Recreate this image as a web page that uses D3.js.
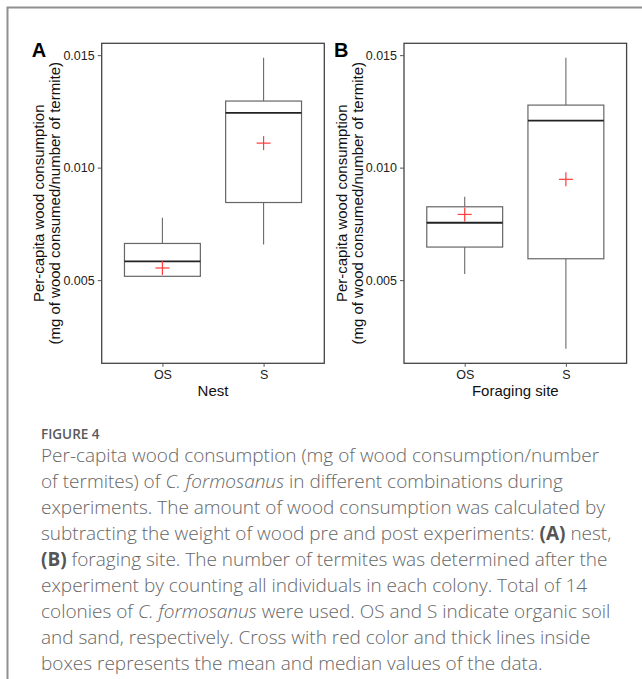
<!DOCTYPE html>
<html>
<head>
<meta charset="utf-8">
<script src="https://cdn.jsdelivr.net/npm/d3@7"></script>
<style>
  html, body { margin: 0; padding: 0; background: #fff; }
  svg { display: block; }
</style>
</head>
<body>
<svg id="chart" width="642" height="679"></svg>
<script>
// ---------------- DATA ----------------
const categories = ["OS", "S"];
const yTickValues = [0.005, 0.010, 0.015];
const yTickLabels = ["0.005", "0.010", "0.015"];

// Panel A: Nest
const nestMin    = [0.00517, 0.00658];
const nestQ1     = [0.00517, 0.00845];
const nestMedian = [0.00583, 0.01243];
const nestQ3     = [0.00663, 0.01296];
const nestMax    = [0.00777, 0.01488];
const nestMean   = [0.00554, 0.01109];

// Panel B: Foraging site
const foragingMin    = [0.00527, 0.00195];
const foragingQ1     = [0.00647, 0.00595];
const foragingMedian = [0.00755, 0.01209];
const foragingQ3     = [0.00826, 0.01278];
const foragingMax    = [0.00871, 0.01488];
const foragingMean   = [0.00792, 0.00948];

const panelLabels = ["A", "B"];
const xTitles = ["Nest", "Foraging site"];
const yTitleLines = ["Per-capita wood consumption", "(mg of wood consumed/number of termite)"];

const captionTitle = "FIGURE 4";
// segments: [text, style] where style: n normal, i italic, b bold
const captionLines = [
  [["Per-capita wood consumption (mg of wood consumption/number", "n"]],
  [["of termites) of ", "n"], ["C. formosanus", "i"], [" in different combinations during", "n"]],
  [["experiments. The amount of wood consumption was calculated by", "n"]],
  [["subtracting the weight of wood pre and post experiments: ", "n"], ["(A)", "b"], [" nest,", "n"]],
  [["(B)", "b"], [" foraging site. The number of termites was determined after the", "n"]],
  [["experiment by counting all individuals in each colony. Total of 14", "n"]],
  [["colonies of ", "n"], ["C. formosanus", "i"], [" were used. OS and S indicate organic soil", "n"]],
  [["and sand, respectively. Cross with red color and thick lines inside", "n"]],
  [["boxes represents the mean and median values of the data.", "n"]]
];
// approximate rendered widths of the caption lines in the reference (px), used to size the font
const captionLineWidths = [564, 526, 573, 568, 560, 538, 596, 542, 485];

// ---------------- LAYOUT ----------------
const svg = d3.select("#chart");
const FONT = "'Liberation Sans', Arial, Helvetica, sans-serif";

// outer frame (left + top)
svg.append("path")
  .attr("d", "M7.5,679 L7.5,7.5 L642,7.5")
  .attr("fill", "none")
  .attr("stroke", "#8f8f8f")
  .attr("stroke-width", 2);

const plotTop = 43.3, plotH = 320, plotW = 222.6;
const panelLefts = [101.7, 404];

// shared y scale (ggplot-style 5% expansion over whisker range)
const allLow = d3.min([...nestMin, ...foragingMin]);
const allHigh = d3.max([...nestMax, ...foragingMax]);
const pad = (allHigh - allLow) * 0.05;
const y = d3.scaleLinear().domain([allLow - pad, allHigh + pad]).range([plotTop + plotH, plotTop]);

function drawPanel(idx, mins, q1s, meds, q3s, maxs, means) {
  const left = panelLefts[idx];
  const g = svg.append("g");
  const x = d3.scalePoint().domain(categories).range([left, left + plotW]).padding(0.6);
  const boxW = x.step() * 0.75;

  const rows = categories.map((c, i) => ({c, min: mins[i], q1: q1s[i], med: meds[i], q3: q3s[i], max: maxs[i], mean: means[i]}));

  // whiskers
  g.selectAll(".wup").data(rows).join("line")
    .attr("x1", d => x(d.c)).attr("x2", d => x(d.c))
    .attr("y1", d => y(d.q3)).attr("y2", d => y(d.max))
    .attr("stroke", "#6a6a6a").attr("stroke-width", 1.1);
  g.selectAll(".wdn").data(rows).join("line")
    .attr("x1", d => x(d.c)).attr("x2", d => x(d.c))
    .attr("y1", d => y(d.q1)).attr("y2", d => y(d.min))
    .attr("stroke", "#6a6a6a").attr("stroke-width", 1.1);

  // boxes
  g.selectAll(".box").data(rows).join("rect")
    .attr("x", d => x(d.c) - boxW / 2)
    .attr("y", d => y(d.q3))
    .attr("width", boxW)
    .attr("height", d => y(d.q1) - y(d.q3))
    .attr("fill", "#fff")
    .attr("stroke", "#666")
    .attr("stroke-width", 1.2);

  // medians
  g.selectAll(".med").data(rows).join("line")
    .attr("x1", d => x(d.c) - boxW / 2).attr("x2", d => x(d.c) + boxW / 2)
    .attr("y1", d => y(d.med)).attr("y2", d => y(d.med))
    .attr("stroke", "#222").attr("stroke-width", 1.8);

  // mean crosses
  const cs = 7;
  rows.forEach(d => {
    g.append("line").attr("x1", x(d.c) - cs).attr("x2", x(d.c) + cs)
      .attr("y1", y(d.mean)).attr("y2", y(d.mean))
      .attr("stroke", "#ff3b3b").attr("stroke-width", 1.2);
    g.append("line").attr("x1", x(d.c)).attr("x2", x(d.c))
      .attr("y1", y(d.mean) - cs).attr("y2", y(d.mean) + cs)
      .attr("stroke", "#ff3b3b").attr("stroke-width", 1.2);
  });

  // panel border
  g.append("rect")
    .attr("x", left).attr("y", plotTop)
    .attr("width", plotW).attr("height", plotH)
    .attr("fill", "none").attr("stroke", "#444").attr("stroke-width", 1.3);

  // y axis
  const ya = g.append("g").attr("transform", `translate(${left},0)`)
    .call(d3.axisLeft(y).tickValues(yTickValues).tickSize(4).tickPadding(3)
      .tickFormat((d, i) => yTickLabels[i]));
  ya.select(".domain").remove();
  ya.selectAll("line").attr("stroke", "#555");
  ya.selectAll("text").attr("font-family", FONT).attr("font-size", 12.5).attr("fill", "#222");

  // x axis
  const xa = g.append("g").attr("transform", `translate(0,${plotTop + plotH})`)
    .call(d3.axisBottom(x).tickSize(3.5).tickPadding(3.5));
  xa.select(".domain").remove();
  xa.selectAll("line").attr("stroke", "#555");
  xa.selectAll("text").attr("font-family", FONT).attr("font-size", 12.5).attr("fill", "#222");

  // x title
  g.append("text")
    .attr("x", left + plotW / 2).attr("y", 395.7)
    .attr("text-anchor", "middle")
    .attr("font-family", FONT).attr("font-size", 15).attr("fill", "#111")
    .text(xTitles[idx]);

  // y title (two lines)
  const cy = plotTop + plotH / 2;
  const offs = [-57.5, -41.5];
  yTitleLines.forEach((t, k) => {
    g.append("text")
      .attr("transform", `translate(${left + offs[k]},${cy}) rotate(-90)`)
      .attr("text-anchor", "middle")
      .attr("font-family", FONT).attr("font-size", 15).attr("fill", "#111")
      .text(t);
  });

  // panel label
  g.append("text")
    .attr("x", left - 70).attr("y", 57)
    .attr("font-family", FONT).attr("font-size", 20).attr("font-weight", "bold").attr("fill", "#000")
    .text(panelLabels[idx]);
}

drawPanel(0, nestMin, nestQ1, nestMedian, nestQ3, nestMax, nestMean);
drawPanel(1, foragingMin, foragingQ1, foragingMedian, foragingQ3, foragingMax, foragingMean);

// ---------------- CAPTION ----------------
const CAPFONT = "'Open Sans', 'Noto Sans', Lato, sans-serif";
svg.append("text")
  .attr("x", 41).attr("y", 438.5)
  .attr("font-family", CAPFONT).attr("font-size", 13.5).attr("font-weight", 600)
  .attr("fill", "#5a5a5a")
  .text(captionTitle);

const capG = svg.append("g");
let capSize = 19;
const lineEls = captionLines.map((segs, i) => {
  const t = capG.append("text")
    .attr("x", 41).attr("y", 461.5 + i * 26)
    .attr("font-family", CAPFONT).attr("font-size", capSize).attr("font-weight", 300)
    .attr("fill", "#666");
  segs.forEach(([s, st]) => {
    const ts = t.append("tspan").text(s);
    if (st === "i") ts.attr("font-style", "italic");
    if (st === "b") ts.attr("font-weight", 700).attr("fill", "#555");
  });
  return t;
});
// fit total width of caption lines to the reference widths
const measured = d3.sum(lineEls, t => t.node().getComputedTextLength());
capSize = capSize * d3.sum(captionLineWidths) / measured;
lineEls.forEach(t => t.attr("font-size", capSize));
</script>
</body>
</html>
